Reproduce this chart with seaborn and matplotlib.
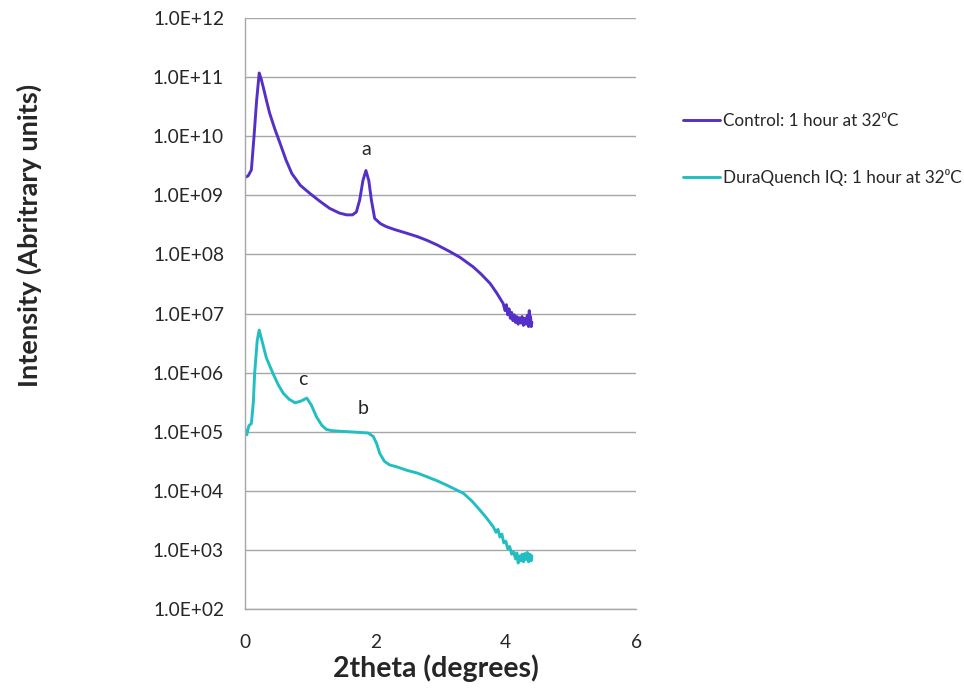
import numpy as np
import pandas as pd
import matplotlib
matplotlib.use("Agg")
import matplotlib.pyplot as plt
import seaborn as sns
from matplotlib.ticker import FixedLocator, FuncFormatter

# ---- data (x in degrees, log10 intensity) ----
control_x = [0.0, 0.05, 0.10, 0.14, 0.18, 0.22, 0.25, 0.28, 0.33, 0.38, 0.46, 0.54, 0.63,
             0.72, 0.85, 1.0, 1.15, 1.30, 1.45, 1.56, 1.65, 1.71, 1.76, 1.81, 1.856,
             1.90, 1.94, 1.99, 2.08, 2.17, 2.30, 2.48, 2.65, 2.79, 2.95, 3.14, 3.30,
             3.50, 3.62, 3.76, 3.86, 3.96, 3.99, 4.01, 4.03, 4.05, 4.07, 4.09, 4.11,
             4.13, 4.15, 4.17, 4.19, 4.21, 4.23, 4.25, 4.27, 4.29, 4.31, 4.33, 4.35,
             4.36, 4.37, 4.38, 4.39, 4.40]
control_log = [9.30, 9.33, 9.43, 9.99, 10.60, 11.07, 10.97, 10.84, 10.61, 10.39, 10.12, 9.88, 9.60,
               9.37, 9.17, 9.03, 8.90, 8.78, 8.70, 8.67, 8.67, 8.72, 8.92, 9.25, 9.42,
               9.25, 8.92, 8.61, 8.52, 8.47, 8.42, 8.36, 8.30, 8.24, 8.16, 8.05, 7.95,
               7.79, 7.67, 7.51, 7.35, 7.17, 7.05, 7.15, 6.98, 7.08, 6.92, 7.02, 6.88,
               6.98, 6.85, 6.95, 6.82, 6.93, 6.84, 6.95, 6.80, 6.92, 6.82, 6.97, 6.78,
               7.05, 6.82, 6.95, 6.78, 6.85]

dq_x = [0.0, 0.03, 0.06, 0.10, 0.13, 0.15, 0.19, 0.22, 0.26, 0.33, 0.43, 0.51, 0.59,
        0.68, 0.77, 0.86, 0.95, 1.02, 1.10, 1.18, 1.25, 1.33, 1.45, 1.61, 1.75, 1.89,
        1.97, 2.02, 2.07, 2.14, 2.22, 2.35, 2.48, 2.65, 2.79, 2.95, 3.09, 3.22, 3.35,
        3.48, 3.60, 3.70, 3.81, 3.85, 3.88, 3.91, 3.94, 3.97, 4.00, 4.03, 4.06, 4.09,
        4.12, 4.15, 4.17, 4.19, 4.21, 4.23, 4.25, 4.27, 4.29, 4.31, 4.33, 4.35, 4.37,
        4.39, 4.40]
dq_log = [5.05, 4.95, 5.10, 5.14, 5.50, 5.99, 6.55, 6.72, 6.55, 6.25, 5.99, 5.80, 5.65,
          5.55, 5.49, 5.52, 5.57, 5.45, 5.25, 5.11, 5.04, 5.02, 5.01, 5.00, 4.99, 4.98,
          4.92, 4.80, 4.63, 4.50, 4.44, 4.40, 4.35, 4.30, 4.24, 4.17, 4.10, 4.03, 3.96,
          3.83, 3.68, 3.55, 3.39, 3.30, 3.35, 3.22, 3.27, 3.12, 3.15, 3.02, 3.06, 2.93,
          2.97, 2.85, 2.95, 2.78, 2.90, 2.82, 2.93, 2.80, 2.94, 2.84, 2.96, 2.80, 2.93,
          2.82, 2.90]

series_names = ["Control: 1 hour at 32\u2070C", "DuraQuench IQ: 1 hour at 32\u2070C"]
series_colors = ["#5530C8", "#22BEC2"]

annot_text = ["a", "c", "b"]
annot_x = [1.86, 0.89, 1.82]
annot_log = [9.77, 5.89, 5.40]

y_ticks_exp = list(range(2, 13))
x_ticks = [0, 2, 4, 6]

# ---- build table ----
df = pd.concat([
    pd.DataFrame({"x": control_x, "y": np.power(10.0, control_log), "s": series_names[0]}),
    pd.DataFrame({"x": dq_x, "y": np.power(10.0, dq_log), "s": series_names[1]}),
], ignore_index=True)

sns.set_style("white")
plt.rcParams["font.family"] = ["Lato", "DejaVu Sans"]

fig = plt.figure(figsize=(9.64, 6.93), dpi=100)
ax = fig.add_axes([0.254, 0.121, 0.406, 0.853])

sns.lineplot(data=df, x="x", y="y", hue="s", palette=series_colors, sort=False,
             linewidth=2.1, ax=ax, estimator=None)

ax.set_yscale("log")
ax.set_ylim(1e2, 1e12)
ax.set_xlim(0, 6)
ax.yaxis.set_major_locator(FixedLocator([10.0 ** e for e in y_ticks_exp]))
ax.yaxis.set_minor_locator(FixedLocator([]))
ax.yaxis.set_major_formatter(FuncFormatter(lambda v, p: "1.0E+%02d" % int(round(np.log10(v)))))
ax.set_xticks(x_ticks)
ax.grid(axis="y", color="#A6A6A6", linewidth=1.0)
ax.grid(axis="x", visible=False)
for side in ["top", "right"]:
    ax.spines[side].set_visible(False)
for side in ["left", "bottom"]:
    ax.spines[side].set_color("#A6A6A6")
    ax.spines[side].set_linewidth(1.0)
ax.tick_params(axis="y", which="major", length=0, labelsize=13.8, pad=15)
ax.tick_params(axis="x", which="major", length=0, labelsize=13.8, pad=18)

ax.set_xlabel("2theta (degrees)", fontsize=20.5, fontweight="bold", va="center")
ax.xaxis.set_label_coords(0.488, -0.1)
ax.set_ylabel("Intensity (Abritrary units)", fontsize=19.5, fontweight="bold", va="center")
ax.yaxis.set_label_coords(-0.55, 0.633)

for t, x, l in zip(annot_text, annot_x, annot_log):
    ax.text(x, 10.0 ** l, t, fontsize=14, ha="center", va="center")

handles, labels = ax.get_legend_handles_labels()
ax.legend(handles, labels, loc="upper left", bbox_to_anchor=(0.693, 0.859),
          bbox_transform=fig.transFigure, frameon=False, fontsize=12.3,
          handlelength=2.16, handletextpad=0.18, labelspacing=2.35)

fig.savefig("out.png", dpi=100)
